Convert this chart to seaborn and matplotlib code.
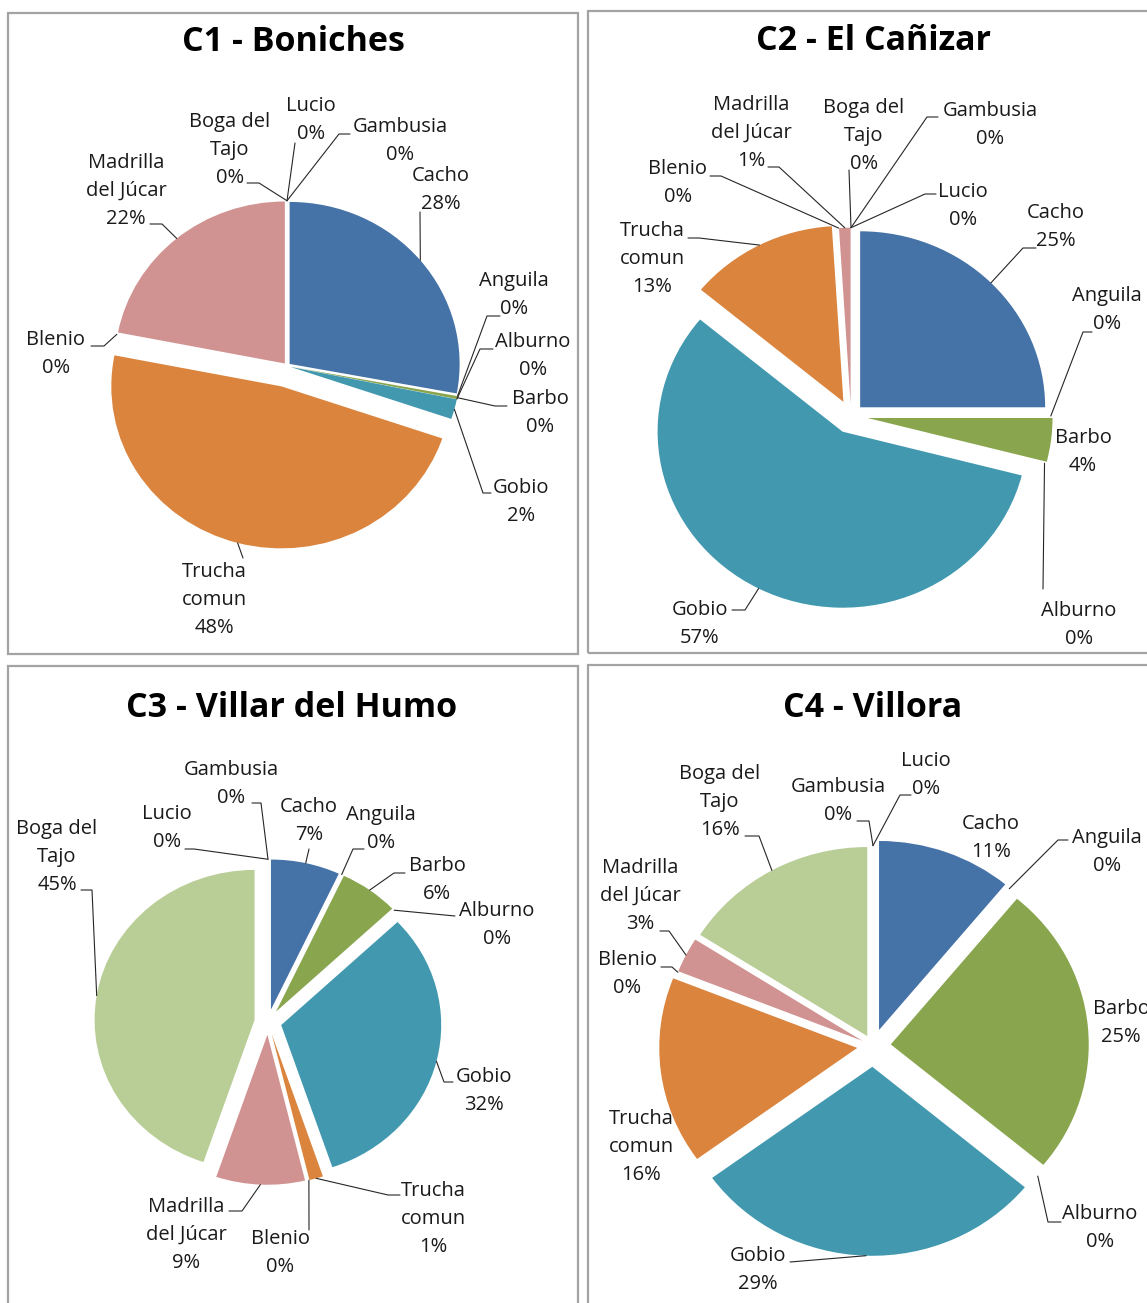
import numpy as np
import matplotlib
matplotlib.use("Agg")
import matplotlib.pyplot as plt
from matplotlib.patches import Rectangle
import seaborn as sns

# species in the order of the series (clockwise from 12 o'clock)
species = ["Cacho", "Anguila", "Barbo", "Alburno", "Gobio", "Trucha\ncomun",
           "Blenio", "Madrilla\ndel Júcar", "Boga del\nTajo", "Lucio", "Gambusia"]
titles = ["C1 - Boniches", "C2 - El Cañizar", "C3 - Villar del Humo", "C4 - Villora"]

# percentages
c1_boniches = [28, 0, 0.3, 0, 2, 48, 0, 22, 0, 0, 0]
c2_canizar = [25, 0, 4, 0, 57, 13, 0, 1, 0, 0, 0]
c3_villar = [7, 0, 6, 0, 32, 1.4, 0, 9, 45, 0, 0]
c4_villora = [11, 0, 25, 0, 29, 16, 0, 3, 16, 0, 0]
series = [c1_boniches, c2_canizar, c3_villar, c4_villora]

sns.set_theme(style="white")
plt.rcParams["font.family"] = ["Open Sans", "DejaVu Sans"]
palette = sns.color_palette(["#4572A7", "#AA4643", "#89A54E", "#71588F", "#4198AF", "#DB843D",
                             "#93A9CF", "#D19392", "#B9CD96", "#A99BBD", "#92C3D5"])

W, H = 1147, 1303

# layout in image pixels: panel box, pie centre, radii, title, and per label
# (text x, text y, leader end x, leader end y, stub x)
N = (None, None, None)
panels = [
    dict(box=(8, 13, 578, 654), center=(287, 366), radius=(170, 162), title=(293, 42),
         explode=[0.02, 0.02, 0.02, 0.02, 0.02, 0.13, 0.02, 0.02, 0.02, 0.02, 0.02],
         labels=[(441, 190, 420, 212, None), (514, 295, 500, 316, 487), (540, 413, 507, 406, 495),
                 (533, 356, 493, 349, 480), (521, 502, 491, 493, 483), (214, 600, 243, 558, None),
                 (56, 354, 91, 346, 104), (126, 191, 150, 224, 162), (230, 150, 247, 183, 259),
                 (311, 120, 295, 143, None), (400, 141, 350, 134, 339)]),
    dict(box=(588, 11, 1160, 653), center=(851, 416), radius=(185, 176), title=(873, 41),
         explode=[0.07, 0.08, 0.09, 0.08, 0.1, 0.09, 0.07, 0.07, 0.07, 0.07, 0.07],
         labels=[(1056, 227, 1036, 248, 1023), (1107, 310, 1092, 332, 1083), (1083, 452) + N,
                 (1079, 625, 1043, 589, None), (700, 624, 732, 610, 745), (652, 259, 688, 238, 699),
                 (678, 183, 710, 176, 721), (751, 133, 768, 167, 779), (864, 136, 849, 170, None),
                 (963, 206, 936, 194, 925), (990, 125, 938, 117, 927)]),
    dict(box=(8, 666, 578, 1320), center=(268, 1022), radius=(160, 150), title=(292, 708),
         explode=[0.085] * 11,
         labels=[(309, 821, 309, 849, None), (381, 829, 364, 849, 353), (437, 880, 405, 873, 394),
                 (497, 925, 455, 916, None), (484, 1091, 453, 1082, 444), (433, 1219, 400, 1195, 388),
                 (280, 1253, 309, 1230, None), (186, 1235, 229, 1211, 242), (57, 857, 81, 890, 92),
                 (167, 828, 185, 849, 194), (231, 784, 252, 803, 261)]),
    dict(box=(588, 665, 1160, 1320), center=(873, 1046), radius=(198, 189), title=(873, 708),
         explode=[0.09, 0.08, 0.09, 0.08, 0.11, 0.08, 0.06, 0.06, 0.06, 0.06, 0.06],
         labels=[(991, 838) + N, (1107, 852, 1068, 840, 1058), (1121, 1023) + N,
                 (1100, 1228, 1061, 1222, 1048), (758, 1270, 790, 1262, None), (641, 1147) + N,
                 (627, 974, 661, 967, 672), (640, 896, 660, 931, 669), (720, 802, 745, 836, 759),
                 (926, 775, 911, 795, 900), (838, 801, 857, 821, 869)]),
]

fig = plt.figure(figsize=(W / 100, H / 100), dpi=100)

for values, title, p in zip(series, titles, panels):
    x0, y0, x1, y1 = p["box"]
    cx, cy = p["center"]
    rx, ry = p["radius"]
    ax = fig.add_axes([x0 / W, 1 - y1 / H, (x1 - x0) / W, (y1 - y0) / H])
    ax.pie(values, colors=palette, startangle=90, counterclock=False,
           explode=p["explode"], wedgeprops=dict(linewidth=0))
    ax.set_aspect("auto")
    ax.set_xlim((x0 - cx) / rx, (x1 - cx) / rx)
    ax.set_ylim((cy - y1) / ry, (cy - y0) / ry)
    ax.set_axis_off()

    def to_data(px, py):
        return (px - cx) / rx, (cy - py) / ry

    ax.add_patch(Rectangle((0, 0), 1, 1, transform=ax.transAxes, fill=False,
                           ec="#a3a3a3", lw=1.6, clip_on=False))
    ax.text(*to_data(*p["title"]), title, ha="center", va="center",
            fontsize=24.5, fontweight="bold", color="black")

    frac = np.array(values) / np.sum(values)
    ends = np.cumsum(frac)
    starts = ends - frac
    for i, (name, v) in enumerate(zip(species, values)):
        lx, ly, ex, ey, sx = p["labels"][i]
        pct = f"{frac[i] * 100:.0f}%"
        ax.text(*to_data(lx, ly), f"{name}\n{pct}", ha="center", va="center",
                fontsize=14.5, linespacing=1.52, color="#1a1a1a")
        if ex is None:
            continue
        theta = np.pi * (starts[i] + ends[i])
        r = 1 + p["explode"][i]
        pts = [(r * np.sin(theta), r * np.cos(theta))]
        if sx is not None:
            pts.append(to_data(sx, ey))
        pts.append(to_data(ex, ey))
        xs, ys = zip(*pts)
        ax.plot(xs, ys, color="#262626", lw=0.8)

fig.savefig("out.png", dpi=100)
